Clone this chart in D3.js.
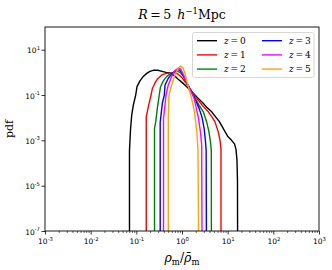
<!DOCTYPE html>
<html><head><meta charset="utf-8">
<script src="https://cdn.jsdelivr.net/npm/d3@7"></script>
<style>body{margin:0;background:#fff}svg{display:block}</style>
</head><body>
<svg id="c" width="332" height="270"></svg>
<script>
const redshiftLabels = ["0","1","2","3","4","5"];
const seriesColors = ["black","red","green","blue","magenta","orange"];
const xTickExps = [-3,-2,-1,0,1,2,3];
const yTickExps = [1,-1,-3,-5,-7];

// [rho/rhobar, pdf]
const pdfZ0 = [[0.0708,1e-7],[0.0708,3.6e-4],[0.0745,2.8e-3],[0.0792,0.0129],[0.0859,0.036],[0.0969,0.10],[0.1035,0.234],[0.120,0.42],[0.142,0.66],[0.169,0.90],[0.199,1.11],[0.235,1.23],[0.298,1.23],[0.365,1.11],[0.447,1.0],[0.546,0.95],[0.668,0.74],[0.817,0.51],[1.0,0.36],[1.22,0.25],[1.50,0.167],[1.83,0.111],[2.27,0.071],[2.88,0.044],[3.53,0.0278],[4.47,0.0181],[5.28,0.0117],[6.46,0.0070],[7.51,0.0042],[8.75,0.0024],[10.2,0.00143],[12.2,0.0010],[14.1,7.0e-4],[15.2,4.0e-4],[16.0,1.3e-4],[16.4,1.7e-5],[16.5,1e-7]];
const pdfZ1 = [[0.165,1e-7],[0.165,0.0109],[0.183,0.030],[0.210,0.10],[0.226,0.199],[0.256,0.34],[0.291,0.51],[0.359,0.77],[0.462,0.90],[0.594,0.95],[0.721,0.95],[0.838,0.81],[1.0,0.57],[1.22,0.34],[1.63,0.148],[2.10,0.071],[2.74,0.036],[3.77,0.0181],[4.54,0.0105],[5.28,0.0065],[6.24,0.0023],[6.79,0.001],[7.14,4.4e-4],[7.14,1e-7]];
const pdfZ2 = [[0.250,1e-7],[0.250,0.0034],[0.266,0.0065],[0.288,0.0256],[0.318,0.10],[0.338,0.227],[0.384,0.40],[0.436,0.57],[0.494,0.74],[0.574,0.90],[0.703,1.07],[0.797,1.11],[0.904,1.0],[1.05,0.70],[1.29,0.31],[1.57,0.151],[1.93,0.071],[2.36,0.036],[2.93,0.0181],[3.47,0.0065],[3.90,0.0023],[4.21,8.1e-4],[4.38,3.6e-4],[4.40,1e-7]];
const pdfZ3 = [[0.333,1e-7],[0.333,0.0063],[0.347,0.0129],[0.371,0.043],[0.410,0.10],[0.425,0.278],[0.501,0.55],[0.574,0.77],[0.645,0.98],[0.766,1.29],[0.860,1.29],[0.975,1.05],[1.106,0.63],[1.35,0.278],[1.61,0.143],[1.93,0.066],[2.36,0.0264],[2.74,0.0105],[3.05,0.0034],[3.25,0.001],[3.38,3.6e-4],[3.42,1e-7]];
const pdfZ4 = [[0.394,1e-7],[0.394,0.0095],[0.410,0.0181],[0.447,0.10],[0.501,0.278],[0.594,0.65],[0.703,1.20],[0.830,1.54],[0.927,1.43],[1.05,0.86],[1.22,0.42],[1.50,0.175],[1.83,0.074],[2.27,0.0109],[2.54,0.0023],[2.70,6.0e-4],[2.74,1e-7]];
const pdfZ5 = [[0.501,1e-7],[0.501,0.0129],[0.519,0.10],[0.594,0.278],[0.703,0.77],[0.830,1.54],[0.937,1.89],[1.05,1.58],[1.16,0.92],[1.37,0.234],[1.61,0.074],[1.88,0.0176],[2.10,0.0028],[2.24,3.6e-4],[2.30,1e-7]];
const allSeries = [pdfZ0,pdfZ1,pdfZ2,pdfZ3,pdfZ4,pdfZ5];

const L=45,R=319,T=27,B=231;
const svg=d3.select("#c");
const x=d3.scaleLog().domain([1e-3,1e3]).range([L,R]);
const y=d3.scaleLog().domain([1e-7,1e2]).range([B,T]);

svg.append("defs").append("clipPath").attr("id","clip").append("rect")
  .attr("x",L).attr("y",T).attr("width",R-L).attr("height",B-T);

// curves
const line=d3.line().x(d=>x(d[0])).y(d=>y(d[1]));
const g=svg.append("g").attr("clip-path","url(#clip)");
allSeries.forEach((s,i)=>{
  g.append("path").datum(s).attr("d",line).attr("fill","none")
   .attr("stroke",seriesColors[i]).attr("stroke-width",1.4).attr("stroke-linejoin","round");
});

// minor x ticks
const minor=[];
for(let e=-3;e<3;e++) for(let k=2;k<10;k++) minor.push(k*Math.pow(10,e));
const xMinor=d3.axisBottom(x).tickValues(minor).tickSize(2).tickFormat("");
svg.append("g").attr("transform",`translate(0,${B})`).call(xMinor)
  .call(a=>a.select(".domain").remove()).selectAll("line").attr("stroke","#000").attr("stroke-width",0.6);

const xAxis=d3.axisBottom(x).tickValues(xTickExps.map(e=>Math.pow(10,e))).tickSize(3.5).tickPadding(2).tickFormat("");
const xa=svg.append("g").attr("transform",`translate(0,${B})`).call(xAxis);
xa.select(".domain").remove();
xa.selectAll("line").attr("stroke","#000").attr("stroke-width",0.8);
xa.selectAll(".tick").each(function(d){
  const t=d3.select(this).append("text").attr("y",13).attr("fill","#000")
    .attr("font-family","DejaVu Sans").attr("font-size",7.5).attr("text-anchor","middle");
  const e=Math.round(Math.log10(d));
  t.append("tspan").text("10");
  t.append("tspan").attr("dy",-3.5).attr("font-size",5.3).text(e<0?"-"+(-e):String(e));
});

const yAxis=d3.axisLeft(y).tickValues(yTickExps.map(e=>Math.pow(10,e))).tickSize(3.5).tickFormat("");
const ya=svg.append("g").attr("transform",`translate(${L},0)`).call(yAxis);
ya.select(".domain").remove();
ya.selectAll("line").attr("stroke","#000").attr("stroke-width",0.8);
ya.selectAll(".tick").each(function(d){
  const t=d3.select(this).append("text").attr("x",-5).attr("y",3).attr("fill","#000")
    .attr("font-family","DejaVu Sans").attr("font-size",7.5).attr("text-anchor","end");
  const e=Math.round(Math.log10(d));
  t.append("tspan").text("10");
  t.append("tspan").attr("dy",-3.5).attr("font-size",5.3).text(e<0?"-"+(-e):String(e));
});

svg.append("rect").attr("x",L).attr("y",T).attr("width",R-L).attr("height",B-T)
  .attr("fill","none").attr("stroke","#000").attr("stroke-width",0.9);

// title
const title=svg.append("text").attr("x",(L+R)/2).attr("y",19).attr("text-anchor","middle")
  .attr("font-family","DejaVu Serif").attr("font-size",12.5).attr("fill","#000");
title.append("tspan").attr("font-style","italic").text("R");
title.append("tspan").text("\u2009=\u20095\u2002");
title.append("tspan").attr("font-style","italic").text("h");
title.append("tspan").attr("dy",-5).attr("font-size",8.5).text("\u22121");
title.append("tspan").attr("dy",5).text("Mpc");

// y label
svg.append("text").attr("transform",`translate(13,${(T+B)/2}) rotate(-90)`)
  .attr("text-anchor","middle").attr("font-family","DejaVu Serif").attr("font-size",11).attr("fill","#000").text("pdf");

// x label
const xl=svg.append("text").attr("x",(L+R)/2).attr("y",262).attr("text-anchor","middle")
  .attr("font-family","DejaVu Serif").attr("font-size",12.5).attr("fill","#000");
xl.append("tspan").attr("font-style","italic").text("\u03c1");
xl.append("tspan").attr("dy",3).attr("font-size",8.5).text("m");
xl.append("tspan").attr("dy",-3).text("/");
xl.append("tspan").attr("font-style","italic").text("\u03c1\u0304");
xl.append("tspan").attr("dy",3).attr("font-size",8.5).text("m");

// legend
const lg=svg.append("g");
lg.append("rect").attr("x",192.5).attr("y",32.5).attr("width",121.5).attr("height",45).attr("rx",2)
  .attr("fill","#fff").attr("fill-opacity",0.8).attr("stroke","#ccc").attr("stroke-width",0.8);
redshiftLabels.forEach((lab,i)=>{
  const col=Math.floor(i/3), row=i%3;
  const lx=197+col*65, ly=40.7+row*14.2;
  lg.append("line").attr("x1",lx).attr("x2",lx+20).attr("y1",ly).attr("y2",ly)
    .attr("stroke",seriesColors[i]).attr("stroke-width",1.4);
  const t=lg.append("text").attr("x",lx+27).attr("y",ly+3).attr("font-family","DejaVu Serif")
    .attr("font-size",9).attr("fill","#000");
  t.append("tspan").attr("font-style","italic").text("z");
  t.append("tspan").text("\u2009=\u2009"+lab);
});
</script>
</body></html>
